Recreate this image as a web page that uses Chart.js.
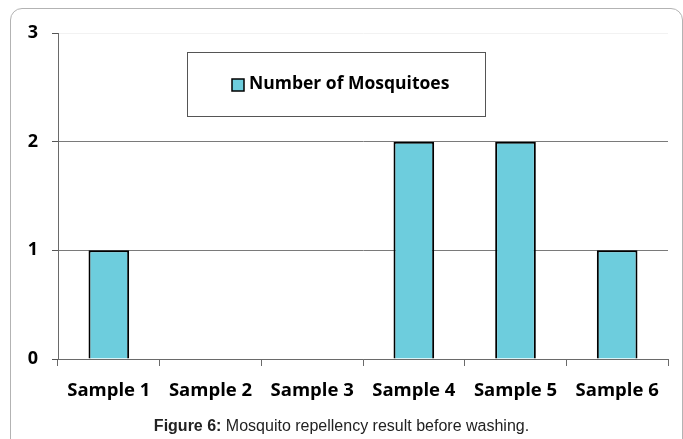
<!DOCTYPE html>
<html><head><meta charset="utf-8">
<script src="https://cdn.jsdelivr.net/npm/chart.js@4"></script>
<style>
html,body{margin:0;padding:0;background:#fff;overflow:hidden;}
#wrap{position:relative;width:683px;height:439px;overflow:hidden;background:#fff;}
#frame{position:absolute;left:10px;top:8px;width:673px;height:470px;border:1.5px solid #b3b3b3;border-radius:12px;box-sizing:border-box;}
#c{position:absolute;left:0;top:0;width:683px;height:439px;}
#cap{position:absolute;left:0;width:683px;top:417px;text-align:center;font-family:"Liberation Sans",Arial,sans-serif;font-size:16px;color:#222;}
</style></head><body>
<div id="wrap"><div id="frame"></div><canvas id="c" width="683" height="439"></canvas><div id="cap"><b>Figure 6:</b> Mosquito repellency result before washing.</div></div>
<script>
const categories = ['Sample 1','Sample 2','Sample 3','Sample 4','Sample 5','Sample 6'];
const mosquitoes = [1, 0, 0, 2, 2, 1];
const seriesLabel = 'Number of Mosquitoes';
const yTickValues = [0, 1, 2, 3];

Chart.defaults.font.family = '"Open Sans", sans-serif';
Chart.defaults.color = '#000';

const legendBox = {
  id: 'legendBox',
  afterDraw(chart) {
    const ctx = chart.ctx;
    const ds = chart.data.datasets[0];
    ctx.save();
    ctx.strokeStyle = '#555';
    ctx.lineWidth = 1;
    ctx.strokeRect(187.5, 52.5, 298, 64);
    ctx.fillStyle = ds.backgroundColor;
    ctx.fillRect(232, 79, 12, 12);
    ctx.strokeStyle = '#000';
    ctx.lineWidth = 1.5;
    ctx.strokeRect(232, 79, 12, 12);
    ctx.fillStyle = '#000';
    ctx.font = 'bold 17.5px "Open Sans", sans-serif';
    ctx.textBaseline = 'middle';
    ctx.textAlign = 'left';
    ctx.fillText(ds.label, 249, 84);
    ctx.restore();
  }
};

new Chart(document.getElementById('c'), {
  type: 'bar',
  data: {
    labels: categories,
    datasets: [{
      label: seriesLabel,
      data: mosquitoes,
      backgroundColor: '#6dcddd',
      borderColor: '#000',
      borderWidth: 2,
      barPercentage: 0.4,
      categoryPercentage: 1.0
    }]
  },
  options: {
    responsive: false,
    animation: false,
    devicePixelRatio: 1,
    layout: { padding: { left: 0, top: 33, right: 15, bottom: 0 } },
    plugins: { legend: { display: false }, tooltip: { enabled: false } },
    scales: {
      y: {
        min: 0, max: 3,
        afterFit(s) { s.width = 58; },
        afterBuildTicks(s) { s.ticks = yTickValues.map(v => ({ value: v })); },
        ticks: { font: { size: 18, weight: 'bold' }, color: '#000', padding: 14 },
        grid: {
          color: ctx => (ctx.tick && ctx.tick.value === 3) ? '#f2f2f2' : '#7a7a7a',
          tickColor: '#555',
          tickLength: 6,
          lineWidth: 1
        },
        border: { color: '#6a6a6a', width: 1 }
      },
      x: {
        afterFit(s) { s.height = 80; },
        ticks: { font: { size: 18.5, weight: 'bold' }, color: '#000', padding: 14 },
        grid: { drawOnChartArea: false, tickLength: 7, color: '#6a6a6a', offset: true },
        border: { color: '#6a6a6a', width: 1 }
      }
    }
  },
  plugins: [legendBox]
});
</script>
</body></html>
